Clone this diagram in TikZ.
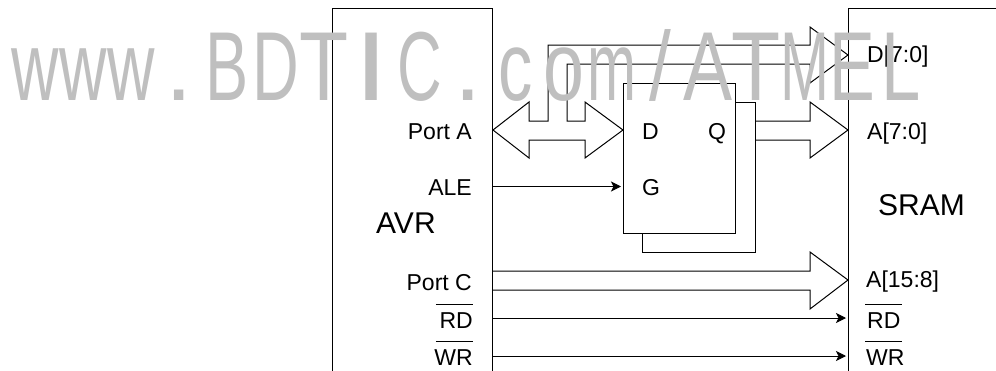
\documentclass[tikz,border=0pt]{standalone}
\usepackage{fontspec}
\setmainfont{Liberation Sans}
\usetikzlibrary{arrows.meta}
\newcommand{\barleft}{\llap{\raisebox{23pt}{\rule{37pt}{1pt}}}}
\newcommand{\barright}{\rlap{\raisebox{23pt}{\rule{37pt}{1pt}}}}

\begin{document}
\begin{tikzpicture}[
    x=1pt, y=-1pt,
    block/.style={rectangle, draw, line width=1pt, anchor=north west, inner sep=0pt},
    label/.style={inner sep=0pt, font=\fontsize{23}{27}\selectfont},
    leftlabel/.style={label, anchor=base east},
    rightlabel/.style={label, anchor=base west},
    title/.style={inner sep=0pt, anchor=base west, font=\fontsize{30}{36}\selectfont},
    stampchar/.style={inner sep=0pt, anchor=base, text=black!25, font=\fontsize{98}{100}\selectfont},
    bus/.style={draw, line width=1pt, line join=miter},
    arrow/.style={-{Stealth[length=10pt,width=10pt,inset=2.5pt]}, line width=1pt, shorten >=2pt}
]
    \useasboundingbox (0,0) rectangle (996,370);
    \clip (0,0) rectangle (996,370);

    % AVR
    \node[block, minimum width=160pt, minimum height=420pt] (avr) at (332,8) {};
    \node[title] (avrname) at (376,233) {AVR};
    \node[leftlabel] (porta) at (472,139) {Port A};
    \node[leftlabel] (ale) at (472,195) {ALE};
    \node[leftlabel] (portc) at (472,290) {Port C};
    \node[leftlabel] (rdout) at (473,328) {RD\barleft};
    \node[leftlabel] (wrout) at (473,365) {WR\barleft};

    % SRAM
    \node[block, minimum width=200pt, minimum height=420pt] (sram) at (848,8) {};
    \node[title] (sramname) at (878,215) {SRAM};
    \node[rightlabel] (datain) at (867,62) {D[7:0]};
    \node[rightlabel] (addrlow) at (867,139) {A[7:0]};
    \node[rightlabel] (addrhigh) at (866,287) {A[15:8]};
    \node[rightlabel] (rdin) at (865,328) {\barright\hspace{2pt}RD};
    \node[rightlabel] (wrin) at (865,365) {\barright\hspace{1pt}WR};

    % Latch
    \node[block, minimum width=112pt, minimum height=150pt] (latch) at (623,83) {};
    \node[label, anchor=base west] (latchd) at (642,139) {D};
    \node[label, anchor=base west] (latchq) at (708,139) {Q};
    \node[label, anchor=base west] (latchg) at (642,195) {G};
    \draw[bus] (latch.east |- 0,102) -- (755,102) -- (755,252) -- (642,252) -- (642,233);

    % Port A bus
    \draw[bus] (avr.east |- 0,130) -- (529,102) -- (529,121) -- (548,121) -- (548,45) -- (810,45) -- (810,27)
        -- (sram.west |- 0,55) -- (810,83) -- (810,64) -- (567,64) -- (567,121) -- (585,121) -- (585,102)
        -- (latch.west |- 0,130) -- (585,158) -- (585,140) -- (529,140) -- (529,158) -- cycle;

    % Latch to SRAM
    \draw[bus] (755,121) -- (810,121) -- (810,102) -- (sram.west |- 0,130) -- (810,158) -- (810,140) -- (755,140);

    % Port C bus
    \draw[bus] (avr.east |- 0,271) -- (810,271) -- (810,252) -- (sram.west |- 0,280) -- (810,309) -- (810,290) -- (avr.east |- 0,290);

    % Single lines
    \draw[arrow] (avr.east |- 0,186.5) -- (latch.west |- 0,186.5);
    \draw[arrow] (avr.east |- 0,318) -- (sram.west |- 0,318);
    \draw[arrow] (avr.east |- 0,356) -- (sram.west |- 0,356);

    % Stamp across the top, one letter per cell, over everything
    \foreach \letter/\stretch [count=\i from 0] in {w/0.67,w/0.67,w/0.67,./1,B/0.66,D/0.66,T/0.82,I/1.25,C/0.63,./1,c/0.7,o/0.75,m/0.6,{/}/0.8,A/0.75,T/0.82,M/0.6,E/0.7,L/0.72}
        \node[stampchar] (stamp\i) at ({35+48.1*\i},100) {\scalebox{\stretch}[1]{\letter}};

\end{tikzpicture}
\end{document}
